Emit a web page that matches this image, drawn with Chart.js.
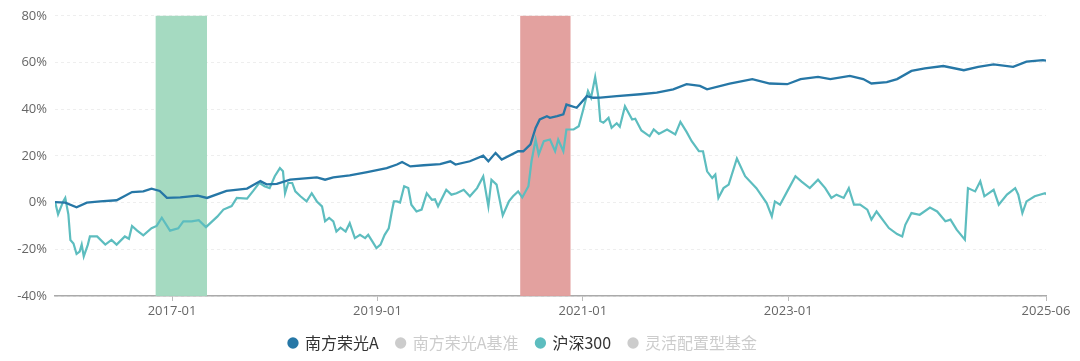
<!DOCTYPE html>
<html><head><meta charset="utf-8">
<script src="https://cdn.jsdelivr.net/npm/chart.js@4/dist/chart.umd.min.js"></script>
<style>html,body{margin:0;padding:0;background:#fff;}#wrap{width:1080px;height:361px;}</style>
</head><body><div id="wrap"><canvas id="c" width="1080" height="361"></canvas></div>
<script>
// x values are fractional years
const seriesNames = ['南方荣光A','南方荣光A基准','沪深300','灵活配置型基金'];
const fundX = [2015.86,2015.96,2016.07,2016.17,2016.30,2016.46,2016.61,2016.72,2016.80,2016.88,2016.95,2017.08,2017.25,2017.34,2017.53,2017.73,2017.86,2017.92,2018.02,2018.15,2018.41,2018.49,2018.57,2018.73,2018.90,2019.09,2019.19,2019.24,2019.32,2019.45,2019.61,2019.71,2019.76,2019.90,2020.03,2020.08,2020.15,2020.21,2020.37,2020.42,2020.49,2020.54,2020.58,2020.65,2020.68,2020.75,2020.81,2020.84,2020.94,2021.04,2021.10,2021.17,2021.33,2021.56,2021.72,2021.88,2022.01,2022.14,2022.21,2022.43,2022.65,2022.82,2022.99,2023.12,2023.29,2023.41,2023.60,2023.73,2023.81,2023.96,2024.06,2024.20,2024.33,2024.51,2024.71,2024.85,2025.00,2025.19,2025.32,2025.48,2025.51];
const fundY = [0.2,0,-2,0,0.5,1,4.5,4.8,6,5,2,2.2,3,2,5,6,9.2,7.8,8,9.8,10.8,9.8,10.8,11.7,13.1,14.8,16.3,17.4,15.5,16,16.5,17.7,16.3,17.7,20.1,17.7,21.3,18.4,22,22,24.9,32,35.6,37,36.3,37,37.8,42,40.6,45.6,44.9,45,45.6,46.4,47.1,48.5,50.7,50,48.5,51,52.9,51,50.7,52.9,53.8,52.9,54.3,52.9,51,51.6,52.9,56.4,57.5,58.5,56.7,58.1,59.2,58.1,60.4,61,60.8];
const hsX = [2015.86,2015.89,2015.94,2015.96,2015.99,2016.01,2016.04,2016.07,2016.10,2016.12,2016.14,2016.18,2016.20,2016.27,2016.35,2016.41,2016.46,2016.54,2016.58,2016.61,2016.66,2016.72,2016.80,2016.85,2016.90,2016.98,2017.06,2017.11,2017.19,2017.26,2017.33,2017.44,2017.50,2017.58,2017.63,2017.73,2017.79,2017.85,2017.90,2017.95,2018.00,2018.05,2018.08,2018.10,2018.13,2018.17,2018.20,2018.25,2018.31,2018.36,2018.41,2018.46,2018.49,2018.53,2018.57,2018.60,2018.64,2018.69,2018.73,2018.78,2018.83,2018.88,2018.91,2018.95,2018.99,2019.03,2019.07,2019.11,2019.14,2019.16,2019.19,2019.22,2019.26,2019.30,2019.33,2019.38,2019.43,2019.48,2019.53,2019.56,2019.59,2019.67,2019.72,2019.77,2019.84,2019.90,2019.97,2020.03,2020.08,2020.11,2020.16,2020.22,2020.28,2020.32,2020.37,2020.41,2020.47,2020.50,2020.54,2020.57,2020.62,2020.68,2020.73,2020.76,2020.81,2020.84,2020.91,2020.96,2021.00,2021.05,2021.08,2021.12,2021.15,2021.17,2021.20,2021.25,2021.28,2021.33,2021.36,2021.41,2021.48,2021.51,2021.57,2021.65,2021.69,2021.74,2021.82,2021.90,2021.95,2022.01,2022.06,2022.13,2022.17,2022.21,2022.26,2022.29,2022.32,2022.37,2022.42,2022.50,2022.58,2022.69,2022.79,2022.84,2022.87,2022.92,2022.99,2023.07,2023.13,2023.21,2023.29,2023.36,2023.42,2023.47,2023.54,2023.59,2023.64,2023.70,2023.77,2023.81,2023.86,2023.98,2024.06,2024.11,2024.14,2024.20,2024.28,2024.38,2024.45,2024.53,2024.58,2024.64,2024.72,2024.75,2024.82,2024.87,2024.91,2025.00,2025.05,2025.13,2025.21,2025.24,2025.28,2025.32,2025.40,2025.50,2025.51];
const hsY = [0.5,-5,0.5,2,-5,-16,-17.5,-22,-21,-18,-23,-18,-14.5,-14.5,-18,-16,-18,-14.5,-15.5,-10,-12,-14,-11,-10,-6.5,-12,-11,-8,-8,-7.5,-10.5,-6,-3,-1.5,2,1.7,5,8.5,7,6.2,11.3,14.8,13.4,4,8.4,8.4,4.8,2.7,0.5,4,0.5,-1.6,-8,-6.6,-8,-12.4,-10.7,-12.4,-8.8,-15.2,-13.8,-15.2,-13.8,-16.6,-19.5,-18,-13.8,-11,-3.8,0.5,0.5,0,7,6.2,-0.9,-3.8,-3,4,1.2,1.4,-1.6,5.5,3.4,4,5.5,2.7,6.2,11.2,-1.6,9.8,7.7,-5.5,0.5,2.7,4.8,2.2,7,17.7,27,20.6,26.3,27,22,27,22,31.3,31.3,32.7,39.2,47.8,44.9,53.8,45.6,34.9,34.2,36.3,32,34,32.5,41.3,35.6,35.9,30.9,28.4,31.3,29.4,31.3,29.2,34.6,30.3,26.3,22,22,13.4,10.5,12,2,6.2,7.7,18.9,11.3,6.2,-0.2,-5.9,0.5,-0.9,4.8,11.3,9,6.2,9.8,6.2,2,3.4,2,6.2,-0.9,-0.9,-3,-7.3,-3.8,-10.9,-13.5,-14.5,-9.5,-4.5,-5.2,-2.1,-3.8,-8,-7.3,-11.6,-15.9,6.2,4.8,9.1,2.7,5.5,-0.9,3.4,6.2,3.4,-4.5,0.5,2.7,4,3.5];
const tickPos = [2017.0,2019.0,2021.0,2023.0,2025.51];
const tickLabels = ['2017-01','2019-01','2021-01','2023-01','2025-06'];
const bandStart = [2016.84,2020.39];
const bandEnd = [2017.34,2020.88];
const bandColors = ['rgba(160,216,190,0.95)','rgba(226,156,154,0.95)'];

const colors = ['#2677a6','#cccccc','#5dbdbf','#cccccc'];
const hiddenSeries = [false,true,false,true];
const toPts = (xs, ys) => xs.map((x,i)=>({x:x,y:ys[i]}));

const bandPlugin = {
  id:'bands',
  beforeDatasetsDraw(chart){
    const {ctx, chartArea, scales} = chart;
    ctx.save();
    bandStart.forEach((s,i)=>{
      const x1 = scales.x.getPixelForValue(s), x2 = scales.x.getPixelForValue(bandEnd[i]);
      ctx.fillStyle = bandColors[i];
      ctx.fillRect(x1, chartArea.top, x2-x1, chartArea.bottom-chartArea.top);
    });
    ctx.restore();
  }
};

const font = "'Open Sans','Noto Sans CJK SC',sans-serif";
new Chart(document.getElementById('c'), {
  type:'line',
  data:{datasets:[
    {label:seriesNames[0], data:toPts(fundX,fundY), borderColor:colors[0], backgroundColor:colors[0], borderWidth:2.3, pointRadius:0, tension:0},
    {label:seriesNames[1], data:[], borderColor:colors[1], backgroundColor:colors[1], borderWidth:2, pointRadius:0},
    {label:seriesNames[2], data:toPts(hsX,hsY), borderColor:colors[2], backgroundColor:colors[2], borderWidth:2.2, pointRadius:0, tension:0},
    {label:seriesNames[3], data:[], borderColor:colors[3], backgroundColor:colors[3], borderWidth:2, pointRadius:0}
  ]},
  plugins:[bandPlugin],
  options:{
    responsive:false, animation:false,
    layout:{padding:{top:15,right:34,left:0,bottom:0}},
    plugins:{
      tooltip:{enabled:false},
      legend:{position:'bottom', onClick:null,
        labels:{usePointStyle:true, pointStyle:'circle', boxWidth:8, boxHeight:8, padding:18,
          font:{family:"'Noto Sans CJK SC',sans-serif", size:16},
          generateLabels(chart){
            return chart.data.datasets.map((d,i)=>({text:d.label, fillStyle:colors[i], strokeStyle:colors[i], lineWidth:0, pointStyle:'circle', hidden:false, fontColor: hiddenSeries[i]?'#cccccc':'#333333', datasetIndex:i}));
          }}
      }
    },
    scales:{
      x:{type:'linear', min:2015.86, max:2025.51,
        afterBuildTicks(s){ s.ticks = tickPos.map(v=>({value:v})); },
        afterFit(s){ s.height = 21; },
        ticks:{autoSkip:false, maxRotation:0, color:'#666', font:{family:font,size:13}, padding:2,
          callback(v,i){ return tickLabels[i]; }},
        grid:{drawOnChartArea:false, drawTicks:true, tickLength:5, color:'#bbbbbb'},
        border:{color:'#aaaaaa', width:1.5}
      },
      y:{min:-40, max:80,
        afterFit(s){ s.width = 55; },
        ticks:{stepSize:20, color:'#666', font:{family:font,size:13}, padding:8, callback:v=>v+'%'},
        grid:{color:'#eeeeee', drawTicks:false},
        border:{display:false, dash:[3,3]}
      }
    }
  }
});
</script></body></html>
